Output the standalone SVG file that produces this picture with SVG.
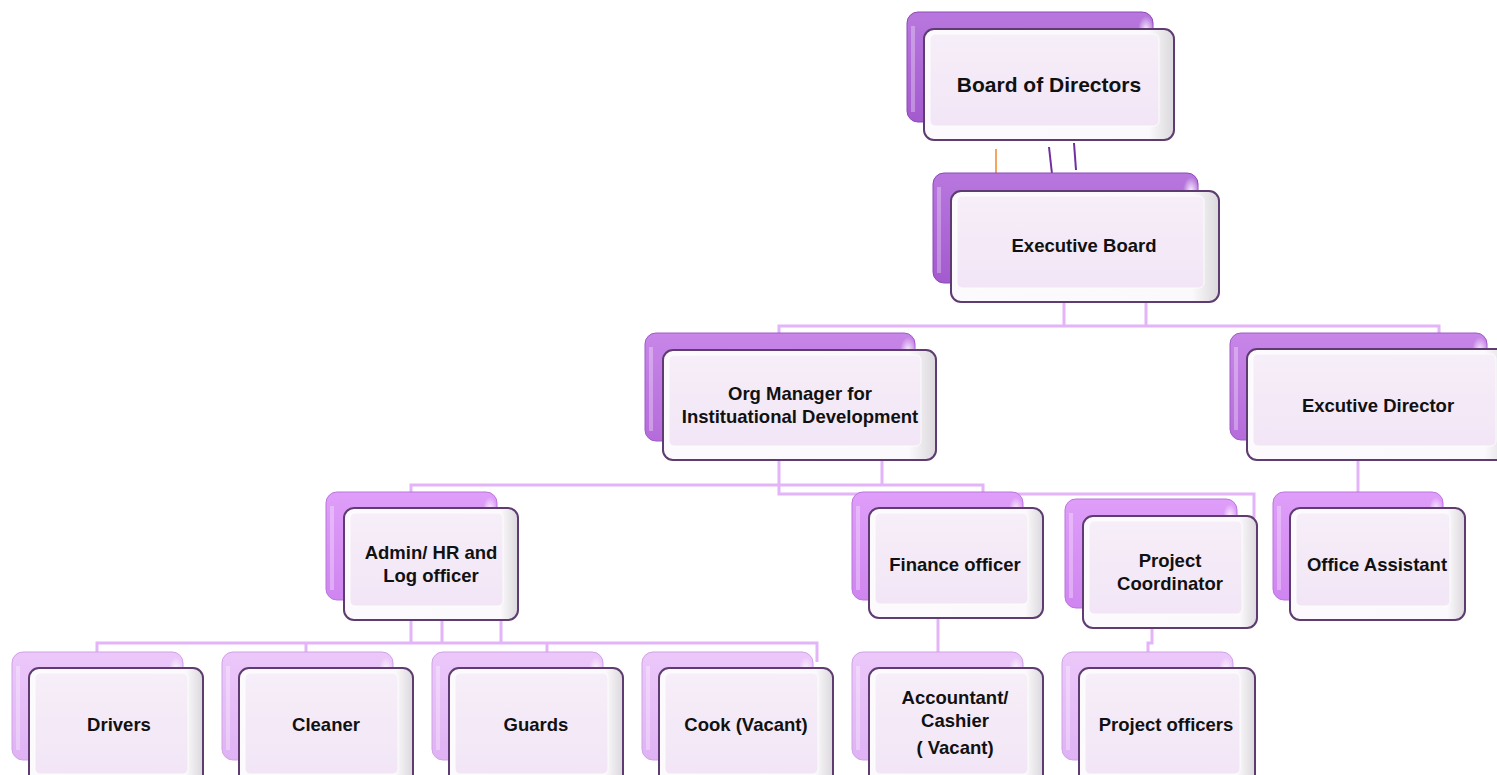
<svg xmlns="http://www.w3.org/2000/svg" width="1497" height="775" viewBox="0 0 1497 775">
<defs>
<linearGradient id="g1" x1="0" y1="0" x2="0" y2="1"><stop offset="0" stop-color="#b877de"/><stop offset="1" stop-color="#a35ace"/></linearGradient>
<linearGradient id="g2" x1="0" y1="0" x2="0" y2="1"><stop offset="0" stop-color="#c886e8"/><stop offset="1" stop-color="#b56cdb"/></linearGradient>
<linearGradient id="g3" x1="0" y1="0" x2="0" y2="1"><stop offset="0" stop-color="#df9ef9"/><stop offset="1" stop-color="#cf85f0"/></linearGradient>
<linearGradient id="g4" x1="0" y1="0" x2="0" y2="1"><stop offset="0" stop-color="#ecc8fa"/><stop offset="1" stop-color="#dfb2f4"/></linearGradient>
<linearGradient id="gf" x1="0" y1="0" x2="1" y2="0"><stop offset="0" stop-color="#fcfafc"/><stop offset="0.9" stop-color="#fbf9fb"/><stop offset="1" stop-color="#dad8dc"/></linearGradient>
<linearGradient id="gi" x1="0" y1="0" x2="0" y2="1"><stop offset="0" stop-color="#f6eef8"/><stop offset="1" stop-color="#f2e6f6"/></linearGradient>
<radialGradient id="hl" cx="0.5" cy="0.5" r="0.5"><stop offset="0" stop-color="#ffffff" stop-opacity="0.9"/><stop offset="1" stop-color="#ffffff" stop-opacity="0"/></radialGradient>
</defs>
<style>
.b{stroke-width:1}
.b1{fill:url(#g1);stroke:#8d48b8}
.b2{fill:url(#g2);stroke:#a05ac8}
.b3{fill:url(#g3);stroke:#bb74dd}
.b4{fill:url(#g4);stroke:#cfa2e6}
.f{fill:url(#gf);stroke:#5e3b70;stroke-width:2}
.i{fill:url(#gi);stroke:#ffffff;stroke-opacity:0.8;stroke-width:1}
.h{fill:url(#hl)}
.edge{fill:none;stroke:#ffffff;stroke-opacity:0.3;stroke-width:4}
text{font-family:"Liberation Sans",Arial,sans-serif;font-weight:bold;font-size:18.5px;fill:#111;text-anchor:middle}
.big{font-size:21px}
.c{fill:none;stroke:#e3b4f8;stroke-width:3}
.o{fill:none;stroke:#f4a65e;stroke-width:2}
.p{fill:none;stroke:#7030a0;stroke-width:2}
</style>

<g id="connectors">
<path class="o" d="M996,149 V177"/>
<path class="p" d="M1049,147 L1052,174"/>
<path class="p" d="M1074,143 L1076,170"/>
<path class="c" d="M1064,302 V326 M1146,302 V326 M779,336 V326 H1439 V336"/>
<path class="c" d="M882,460 V485 M779,460 V494 H1254 V518 M411,495 V485 H983 V495"/>
<path class="c" d="M411,620 V643 M442,620 V643 M501,620 V643 M97,655 V643 H817 V662 M306,643 V655 M547,643 V655"/>
<path class="c" d="M938,618 V655"/>
<path class="c" d="M1152,628 V643 H1148 V655"/>
<path class="c" d="M1358,460 V495"/>
</g>

<g id="board">
<rect class="b b1" x="907" y="12" width="246" height="110" rx="11"/>
<path class="edge" d="M913,26 V112"/>
<ellipse class="h" cx="1146" cy="30" rx="8" ry="14"/>
<rect class="f" x="924" y="29" width="250" height="111" rx="10"/>
<rect class="i" x="930" y="34" width="229" height="92" rx="5"/>
<text class="big" x="1049" y="92">Board of Directors</text>
</g>

<g id="exec-board">
<rect class="b b1" x="933" y="173" width="265" height="110" rx="11"/>
<path class="edge" d="M939,187 V273"/>
<ellipse class="h" cx="1191" cy="191" rx="8" ry="14"/>
<rect class="f" x="951" y="191" width="268" height="111" rx="10"/>
<rect class="i" x="957" y="196" width="247" height="92" rx="5"/>
<text x="1084" y="252">Executive Board</text>
</g>

<g id="org-manager">
<rect class="b b2" x="645" y="333" width="270" height="108" rx="11"/>
<path class="edge" d="M651,347 V431"/>
<ellipse class="h" cx="908" cy="351" rx="8" ry="14"/>
<rect class="f" x="663" y="350" width="273" height="110" rx="10"/>
<rect class="i" x="669" y="355" width="252" height="91" rx="5"/>
<text x="800" y="400">Org Manager for</text>
<text x="800" y="423">Instituational Development</text>
</g>

<g id="executive-director">
<rect class="b b2" x="1230" y="333" width="257" height="107" rx="11"/>
<path class="edge" d="M1236,347 V430"/>
<ellipse class="h" cx="1480" cy="351" rx="8" ry="14"/>
<rect class="f" x="1247" y="349" width="264" height="111" rx="10"/>
<rect class="i" x="1253" y="354" width="243" height="92" rx="5"/>
<text x="1378" y="412">Excutive Director</text>
</g>

<g id="admin-hr">
<rect class="b b3" x="326" y="492" width="171" height="108" rx="11"/>
<path class="edge" d="M332,506 V590"/>
<ellipse class="h" cx="490" cy="510" rx="7" ry="13"/>
<rect class="f" x="344" y="508" width="174" height="112" rx="10"/>
<rect class="i" x="350" y="513" width="153" height="93" rx="5"/>
<text x="431" y="559">Admin/ HR and</text>
<text x="431" y="582">Log officer</text>
</g>

<g id="finance-officer">
<rect class="b b3" x="852" y="492" width="171" height="108" rx="11"/>
<path class="edge" d="M858,506 V590"/>
<ellipse class="h" cx="1016" cy="510" rx="7" ry="13"/>
<rect class="f" x="869" y="508" width="174" height="110" rx="10"/>
<rect class="i" x="875" y="513" width="153" height="91" rx="5"/>
<text x="955" y="571">Finance officer</text>
</g>

<g id="project-coordinator">
<rect class="b b3" x="1065" y="499" width="172" height="109" rx="11"/>
<path class="edge" d="M1071,513 V598"/>
<ellipse class="h" cx="1230" cy="517" rx="7" ry="13"/>
<rect class="f" x="1083" y="516" width="174" height="112" rx="10"/>
<rect class="i" x="1089" y="521" width="153" height="93" rx="5"/>
<text x="1170" y="567">Project</text>
<text x="1170" y="590">Coordinator</text>
</g>

<g id="office-assistant">
<rect class="b b3" x="1273" y="492" width="170" height="108" rx="11"/>
<path class="edge" d="M1279,506 V590"/>
<ellipse class="h" cx="1436" cy="510" rx="7" ry="13"/>
<rect class="f" x="1290" y="508" width="175" height="112" rx="10"/>
<rect class="i" x="1296" y="513" width="154" height="93" rx="5"/>
<text x="1377" y="571">Office Assistant</text>
</g>

<g id="drivers">
<rect class="b b4" x="12" y="652" width="171" height="108" rx="11"/>
<path class="edge" d="M18,666 V750"/>
<ellipse class="h" cx="176" cy="670" rx="7" ry="13"/>
<rect class="f" x="29" y="668" width="174" height="120" rx="10"/>
<rect class="i" x="35" y="673" width="153" height="101" rx="5"/>
<text x="119" y="731">Drivers</text>
</g>

<g id="cleaner">
<rect class="b b4" x="222" y="652" width="171" height="108" rx="11"/>
<path class="edge" d="M228,666 V750"/>
<ellipse class="h" cx="386" cy="670" rx="7" ry="13"/>
<rect class="f" x="239" y="668" width="174" height="120" rx="10"/>
<rect class="i" x="245" y="673" width="153" height="101" rx="5"/>
<text x="326" y="731">Cleaner</text>
</g>

<g id="guards">
<rect class="b b4" x="432" y="652" width="171" height="108" rx="11"/>
<path class="edge" d="M438,666 V750"/>
<ellipse class="h" cx="596" cy="670" rx="7" ry="13"/>
<rect class="f" x="449" y="668" width="174" height="120" rx="10"/>
<rect class="i" x="455" y="673" width="153" height="101" rx="5"/>
<text x="536" y="731">Guards</text>
</g>

<g id="cook">
<rect class="b b4" x="642" y="652" width="171" height="108" rx="11"/>
<path class="edge" d="M648,666 V750"/>
<ellipse class="h" cx="806" cy="670" rx="7" ry="13"/>
<rect class="f" x="659" y="668" width="174" height="120" rx="10"/>
<rect class="i" x="665" y="673" width="153" height="101" rx="5"/>
<text x="746" y="731">Cook (Vacant)</text>
</g>

<g id="accountant">
<rect class="b b4" x="852" y="652" width="171" height="108" rx="11"/>
<path class="edge" d="M858,666 V750"/>
<ellipse class="h" cx="1016" cy="670" rx="7" ry="13"/>
<rect class="f" x="869" y="668" width="174" height="120" rx="10"/>
<rect class="i" x="875" y="673" width="153" height="101" rx="5"/>
<text x="955" y="704">Accountant/</text>
<text x="955" y="727">Cashier</text>
<text x="955" y="754">( Vacant)</text>
</g>

<g id="project-officers">
<rect class="b b4" x="1062" y="652" width="171" height="108" rx="11"/>
<path class="edge" d="M1068,666 V750"/>
<ellipse class="h" cx="1226" cy="670" rx="7" ry="13"/>
<rect class="f" x="1079" y="668" width="176" height="120" rx="10"/>
<rect class="i" x="1085" y="673" width="155" height="101" rx="5"/>
<text x="1166" y="731">Project officers</text>
</g>
</svg>
